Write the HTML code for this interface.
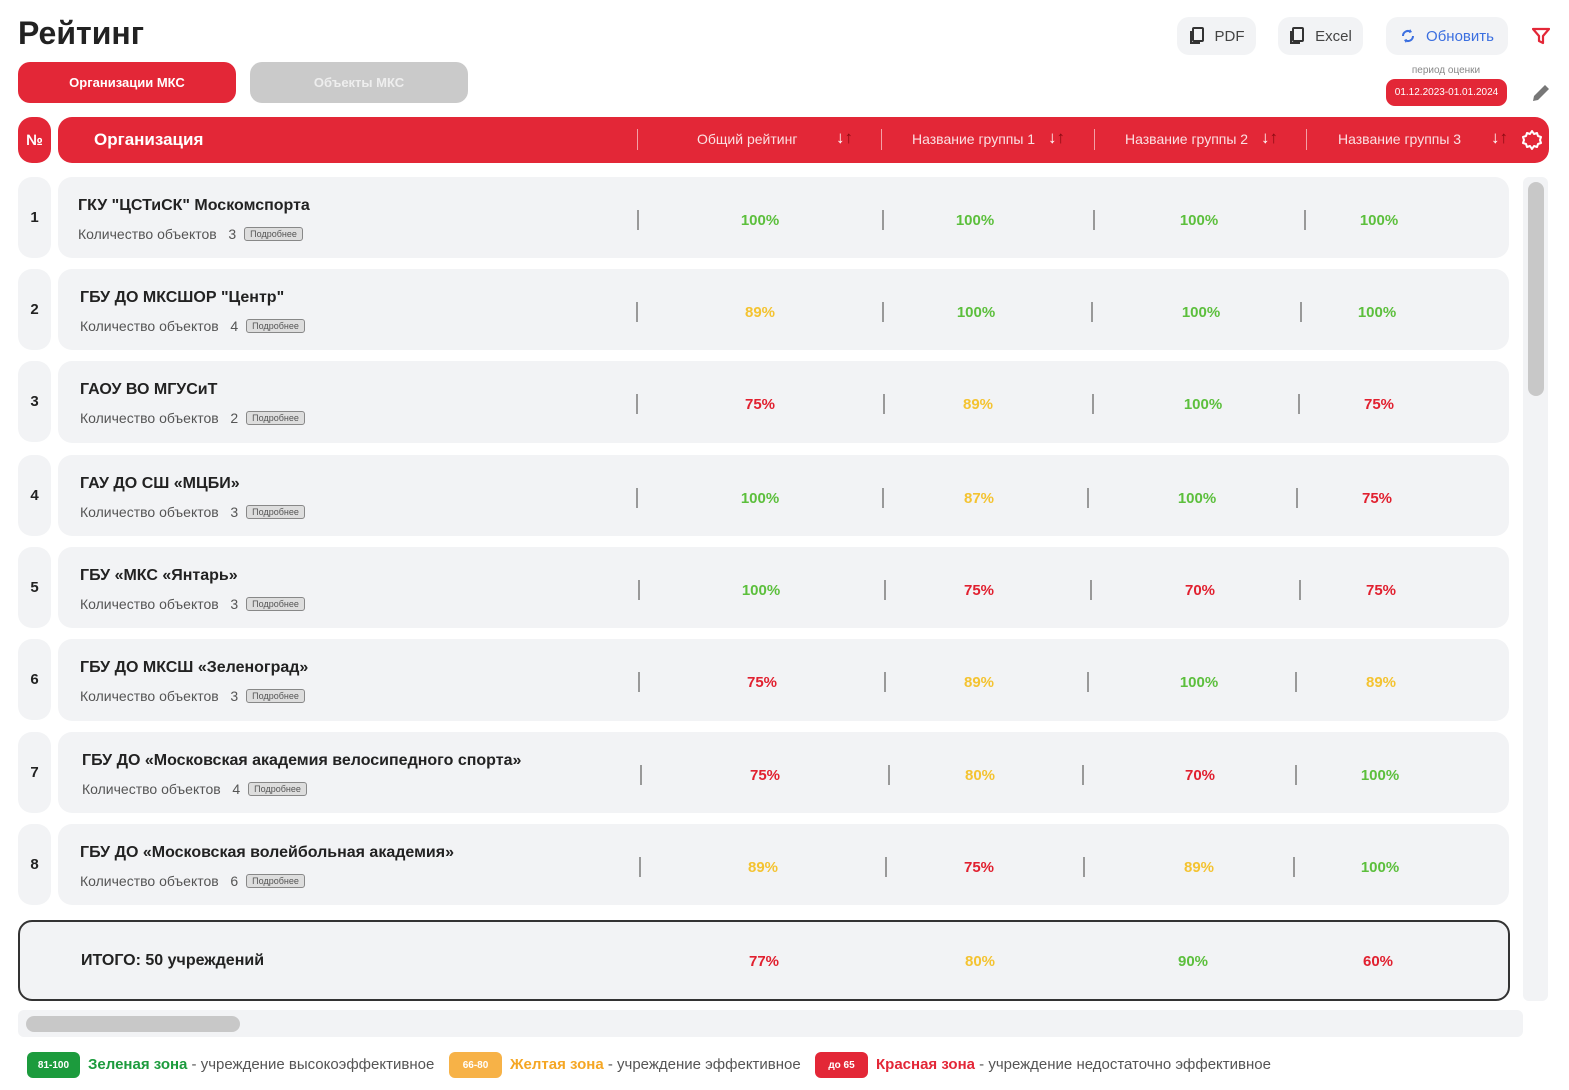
<!DOCTYPE html>
<html><head><meta charset="utf-8">
<style>
*{box-sizing:border-box;margin:0;padding:0}
body{width:1569px;height:1090px;background:#fff;font-family:"Liberation Sans","DejaVu Sans",sans-serif;position:relative;overflow:hidden;color:#222}
.a{position:absolute}
.num{position:absolute;left:18px;width:33px;height:81px;background:#f2f3f5;border-radius:14px;font-weight:bold;font-size:15px;display:flex;align-items:center;justify-content:center;color:#222}
.row{position:absolute;left:58px;width:1451px;height:81px;background:#f2f3f5;border-radius:14px}
.t{position:absolute;left:22px;top:20px;font-weight:bold;font-size:16px;color:#222}
.s{position:absolute;left:22px;top:49px;font-size:14px;color:#555}
.btn{display:inline-block;margin-left:8px;border:1px solid #888;background:#ddd;border-radius:3px;font-size:9px;padding:1px 5px;vertical-align:2px;color:#555}
.sep{position:absolute;width:2px;height:20px;background:#999;top:33px}
.v{position:absolute;top:35px;width:100px;margin-left:-50px;text-align:center;font-weight:bold;font-size:15px}
.g{color:#5cbf3c}.y{color:#f4c331}.r{color:#e1202f}
.hs{position:absolute;top:12px;width:1px;height:21px;background:#f3a0a6}
.hl{position:absolute;top:14px;color:#fbe0e2;font-size:14px;white-space:nowrap}
.ar{position:absolute;top:11px;font-size:17px;font-weight:bold}
.tb{position:absolute;top:17px;height:38px;background:#f2f3f5;border-radius:12px;font-size:15px;display:flex;align-items:center;justify-content:center;gap:10px;color:#444}
.lg{position:absolute;top:1056px;font-size:15px;color:#555;white-space:nowrap}
</style></head><body>
<div class="a" style="left:18px;top:15px;font-size:32px;font-weight:bold;color:#222">Рейтинг</div>
<div class="a" style="left:18px;top:62px;width:218px;height:41px;background:#e32737;border-radius:12px;color:#fff;font-weight:bold;font-size:13px;display:flex;align-items:center;justify-content:center">Организации МКС</div>
<div class="a" style="left:250px;top:62px;width:218px;height:41px;background:#cacaca;border-radius:12px;color:#eee;font-weight:bold;font-size:13px;display:flex;align-items:center;justify-content:center">Объекты МКС</div>

<div class="tb" style="left:1177px;width:79px"><svg width="16" height="18" viewBox="0 0 16 18"><rect x="4" y="1" width="10" height="13" rx="1" fill="none" stroke="#333" stroke-width="2"/><path d="M2 4v12h9" fill="none" stroke="#333" stroke-width="2"/></svg>PDF</div>
<div class="tb" style="left:1278px;width:85px"><svg width="16" height="18" viewBox="0 0 16 18"><rect x="4" y="1" width="10" height="13" rx="1" fill="none" stroke="#333" stroke-width="2"/><path d="M2 4v12h9" fill="none" stroke="#333" stroke-width="2"/></svg>Excel</div>
<div class="tb" style="left:1386px;width:122px;color:#3b6fe0"><svg width="16" height="18" viewBox="0 0 16 18"><path d="M3 9a5 5 0 0 1 8-4M13 9a5 5 0 0 1-8 4" fill="none" stroke="#3b6fe0" stroke-width="2"/><path d="M10 2l2 3-3 1zM6 16l-2-3 3-1z" fill="#3b6fe0"/></svg>Обновить</div>
<svg class="a" style="left:1532px;top:27px" width="18" height="18" viewBox="0 0 18 18"><path d="M1 2h16l-6 7v7l-4-2V9z" fill="none" stroke="#e32737" stroke-width="2.2" stroke-linejoin="round"/></svg>
<div class="a" style="left:1386px;top:65px;width:120px;text-align:center;font-size:10px;color:#888">период оценки</div>
<div class="a" style="left:1386px;top:79px;width:121px;height:27px;background:#e32737;border-radius:9px;color:#fff;font-size:10px;display:flex;align-items:center;justify-content:center">01.12.2023-01.01.2024</div>
<svg class="a" style="left:1530px;top:82px" width="22" height="22" viewBox="0 0 22 22"><path d="M3 19l1-5L15 3l4 4L8 18z" fill="#777"/></svg>

<div class="a" style="left:18px;top:117px;width:33px;height:46px;background:#e32737;border-radius:14px;color:#fff;font-weight:bold;font-size:15px;display:flex;align-items:center;justify-content:center">№</div>
<div class="a" style="left:58px;top:117px;width:1491px;height:46px;background:#e32737;border-radius:14px">
 <div class="a" style="left:36px;top:13px;color:#fff;font-weight:bold;font-size:17px">Организация</div>
 <div class="hs" style="left:579px"></div><div class="hs" style="left:823px"></div><div class="hs" style="left:1036px"></div><div class="hs" style="left:1248px"></div>
 <div class="hl" style="left:639px">Общий рейтинг</div><div class="ar" style="left:778px"><span style="color:#fff">↓</span><span style="color:#8a0a12">↑</span></div>
 <div class="hl" style="left:854px">Название группы 1</div><div class="ar" style="left:990px"><span style="color:#fff">↓</span><span style="color:#8a0a12">↑</span></div>
 <div class="hl" style="left:1067px">Название группы 2</div><div class="ar" style="left:1203px"><span style="color:#fff">↓</span><span style="color:#8a0a12">↑</span></div>
 <div class="hl" style="left:1280px">Название группы 3</div><div class="ar" style="left:1433px"><span style="color:#fff">↓</span><span style="color:#8a0a12">↑</span></div>
 <svg class="a" style="left:1463px;top:12px" width="22" height="22" viewBox="0 0 22 22"><path d="M11 2l2 3 3-1 1 3 3 1-1 3 1 3-3 1-1 3-3-1-2 3-2-3-3 1-1-3-3-1 1-3-1-3 3-1 1-3 3 1z" fill="none" stroke="#fff" stroke-width="2" stroke-linejoin="round"/></svg>
</div>

<div class="num" style="top:177px">1</div>
<div class="row" style="top:177px"><div class="t" style="left:20px">ГКУ "ЦСТиСК" Москомспорта</div><div class="s" style="left:20px">Количество объектов &nbsp; 3<span class="btn">Подробнее</span></div>
<div class="sep" style="left:579px"></div><div class="sep" style="left:824px"></div><div class="sep" style="left:1035px"></div><div class="sep" style="left:1246px"></div>
<div class="v g" style="left:702px">100%</div><div class="v g" style="left:917px">100%</div><div class="v g" style="left:1141px">100%</div><div class="v g" style="left:1321px">100%</div></div>

<div class="num" style="top:269px">2</div>
<div class="row" style="top:269px"><div class="t">ГБУ ДО МКСШОР "Центр"</div><div class="s">Количество объектов &nbsp; 4<span class="btn">Подробнее</span></div>
<div class="sep" style="left:578px"></div><div class="sep" style="left:824px"></div><div class="sep" style="left:1033px"></div><div class="sep" style="left:1242px"></div>
<div class="v y" style="left:702px">89%</div><div class="v g" style="left:918px">100%</div><div class="v g" style="left:1143px">100%</div><div class="v g" style="left:1319px">100%</div></div>

<div class="num" style="top:361px">3</div>
<div class="row" style="top:361px;height:82px"><div class="t">ГАОУ ВО МГУСиТ</div><div class="s">Количество объектов &nbsp; 2<span class="btn">Подробнее</span></div>
<div class="sep" style="left:578px"></div><div class="sep" style="left:825px"></div><div class="sep" style="left:1034px"></div><div class="sep" style="left:1240px"></div>
<div class="v r" style="left:702px">75%</div><div class="v y" style="left:920px">89%</div><div class="v g" style="left:1145px">100%</div><div class="v r" style="left:1321px">75%</div></div>

<div class="num" style="top:455px">4</div>
<div class="row" style="top:455px"><div class="t">ГАУ ДО СШ «МЦБИ»</div><div class="s">Количество объектов &nbsp; 3<span class="btn">Подробнее</span></div>
<div class="sep" style="left:578px"></div><div class="sep" style="left:824px"></div><div class="sep" style="left:1029px"></div><div class="sep" style="left:1238px"></div>
<div class="v g" style="left:702px">100%</div><div class="v y" style="left:921px">87%</div><div class="v g" style="left:1139px">100%</div><div class="v r" style="left:1319px">75%</div></div>

<div class="num" style="top:547px">5</div>
<div class="row" style="top:547px"><div class="t">ГБУ «МКС «Янтарь»</div><div class="s">Количество объектов &nbsp; 3<span class="btn">Подробнее</span></div>
<div class="sep" style="left:580px"></div><div class="sep" style="left:826px"></div><div class="sep" style="left:1032px"></div><div class="sep" style="left:1241px"></div>
<div class="v g" style="left:703px">100%</div><div class="v r" style="left:921px">75%</div><div class="v r" style="left:1142px">70%</div><div class="v r" style="left:1323px">75%</div></div>

<div class="num" style="top:639px">6</div>
<div class="row" style="top:639px;height:82px"><div class="t">ГБУ ДО МКСШ «Зеленоград»</div><div class="s">Количество объектов &nbsp; 3<span class="btn">Подробнее</span></div>
<div class="sep" style="left:580px"></div><div class="sep" style="left:826px"></div><div class="sep" style="left:1029px"></div><div class="sep" style="left:1237px"></div>
<div class="v r" style="left:704px">75%</div><div class="v y" style="left:921px">89%</div><div class="v g" style="left:1141px">100%</div><div class="v y" style="left:1323px">89%</div></div>

<div class="num" style="top:732px">7</div>
<div class="row" style="top:732px"><div class="t" style="left:24px">ГБУ ДО «Московская академия велосипедного спорта»</div><div class="s" style="left:24px">Количество объектов &nbsp; 4<span class="btn">Подробнее</span></div>
<div class="sep" style="left:582px"></div><div class="sep" style="left:830px"></div><div class="sep" style="left:1024px"></div><div class="sep" style="left:1237px"></div>
<div class="v r" style="left:707px">75%</div><div class="v y" style="left:922px">80%</div><div class="v r" style="left:1142px">70%</div><div class="v g" style="left:1322px">100%</div></div>

<div class="num" style="top:824px">8</div>
<div class="row" style="top:824px"><div class="t">ГБУ ДО «Московская волейбольная академия»</div><div class="s">Количество объектов &nbsp; 6<span class="btn">Подробнее</span></div>
<div class="sep" style="left:581px"></div><div class="sep" style="left:827px"></div><div class="sep" style="left:1025px"></div><div class="sep" style="left:1235px"></div>
<div class="v y" style="left:705px">89%</div><div class="v r" style="left:921px">75%</div><div class="v y" style="left:1141px">89%</div><div class="v g" style="left:1322px">100%</div></div>

<div class="a" style="left:18px;top:920px;width:1492px;height:81px;background:#f2f3f5;border:2px solid #333;border-radius:14px">
 <div class="a" style="left:61px;top:30px;font-weight:bold;font-size:16px">ИТОГО: 50 учреждений</div>
 <div class="v r" style="left:744px;top:31px">77%</div><div class="v y" style="left:960px;top:31px">80%</div><div class="v g" style="left:1173px;top:31px">90%</div><div class="v r" style="left:1358px;top:31px">60%</div>
</div>

<div class="a" style="left:1523px;top:177px;width:25px;height:824px;background:#f2f3f5;border-radius:6px"></div>
<div class="a" style="left:1528px;top:182px;width:16px;height:214px;background:#c8c8c8;border-radius:8px"></div>
<div class="a" style="left:18px;top:1010px;width:1505px;height:27px;background:#f2f3f5;border-radius:6px"></div>
<div class="a" style="left:26px;top:1016px;width:214px;height:16px;background:#c8c8c8;border-radius:8px"></div>

<div class="a" style="left:27px;top:1052px;width:53px;height:26px;background:#1c9b3d;border-radius:6px;color:#fff;font-size:10px;font-weight:bold;display:flex;align-items:center;justify-content:center">81-100</div>
<div class="lg" style="left:88px"><b style="color:#1c9b3d">Зеленая зона</b> - учреждение высокоэффективное</div>
<div class="a" style="left:449px;top:1052px;width:53px;height:26px;background:#f7b247;border-radius:6px;color:#fff;font-size:10px;font-weight:bold;display:flex;align-items:center;justify-content:center">66-80</div>
<div class="lg" style="left:510px"><b style="color:#f5a623">Желтая зона</b> - учреждение эффективное</div>
<div class="a" style="left:815px;top:1052px;width:53px;height:26px;background:#e32737;border-radius:6px;color:#fff;font-size:10px;font-weight:bold;display:flex;align-items:center;justify-content:center">до 65</div>
<div class="lg" style="left:876px"><b style="color:#e32737">Красная зона</b> - учреждение недостаточно эффективное</div>
</body></html>
